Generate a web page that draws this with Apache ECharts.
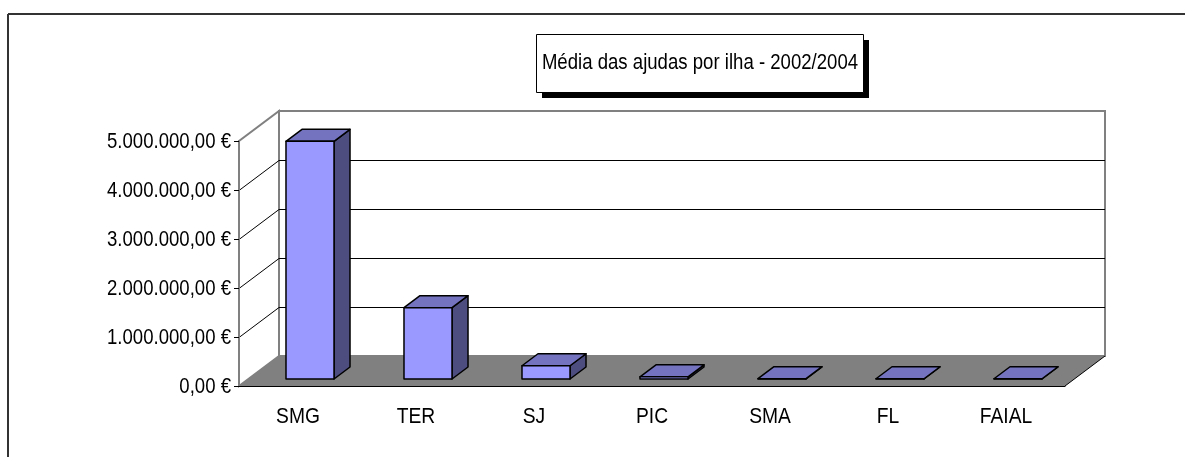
<!DOCTYPE html>
<html>
<head>
<meta charset="utf-8">
<script src="https://cdn.jsdelivr.net/npm/echarts@6/dist/echarts.min.js"></script>
<style>
  html, body { margin: 0; padding: 0; background: #fff; }
  #grafico { width: 1185px; height: 457px; }
</style>
</head>
<body>
<div id="grafico"></div>
<script>
// dados
var ilhas = ['SMG', 'TER', 'SJ', 'PIC', 'SMA', 'FL', 'FAIAL'];
var mediaAjudas = [4850000, 1455000, 270000, 45000, 6000, 5000, 5000];
var marcasEixo = [0, 1000000, 2000000, 3000000, 4000000, 5000000];
var titulo = 'Média das ajudas por ilha - 2002/2004';

var fonte = "'Liberation Sans', Arial, sans-serif";
var letra = '22px ' + fonte;
var aperto = 0.845; // letra estreita como no original
var prof = [40, -30];   // profundidade do chão/paredes
var barraDesl = [12, -7]; // posição da face da frente das barras
var barraProf = [16, -12];

function euro(v) {
  var s = String(Math.round(v)).replace(/\B(?=(\d{3})+(?!\d))/g, '.');
  return s + ',00 €';
}

var chart = echarts.init(document.getElementById('grafico'));

chart.setOption({
  backgroundColor: '#fff',
  animation: false,
  grid: { left: 239, right: 120, top: 141, bottom: 71 },
  xAxis: {
    type: 'category',
    data: ilhas,
    z: 10,
    axisLine: { lineStyle: { color: '#000', width: 1 } },
    axisTick: { length: 5, lineStyle: { color: '#000' } },
    axisLabel: { show: false }
  },
  yAxis: {
    type: 'value',
    min: 0,
    max: 5000000,
    interval: 1000000,
    z: 10,
    splitLine: { show: false },
    axisLine: { show: true, lineStyle: { color: '#808080', width: 2 } },
    axisTick: { show: true, length: 5, lineStyle: { color: '#000' } },
    axisLabel: { show: false }
  },
  graphic: [
    { type: 'line', shape: { x1: 8, y1: 14, x2: 1185, y2: 14 }, style: { stroke: '#333', lineWidth: 2 } },
    { type: 'line', shape: { x1: 8, y1: 14, x2: 8, y2: 457 }, style: { stroke: '#333', lineWidth: 2 } },
    { type: 'rect', shape: { x: 542, y: 40, width: 327, height: 58 }, style: { fill: '#000' } },
    { type: 'rect', shape: { x: 536.5, y: 34.5, width: 327, height: 58 }, style: { fill: '#fff', stroke: '#000', lineWidth: 1 } },
    {
      type: 'text', x: 700, y: 63, scaleX: aperto,
      style: { text: titulo, fill: '#000', font: letra, align: 'center', verticalAlign: 'middle' }
    }
  ],
  series: [
    {
      // paredes e chão
      type: 'custom',
      z: 1,
      silent: true,
      data: [[0, 0]],
      renderItem: function (params, api) {
        var c = params.coordSys;
        var x0 = c.x, x1 = c.x + c.width, yT = c.y, yB = c.y + c.height;
        var dx = prof[0], dy = prof[1];
        return {
          type: 'group',
          children: [
            { type: 'polygon', shape: { points: [[x0, yB], [x0 + dx, yB + dy], [x0 + dx, yT + dy], [x0, yT]] },
              style: { fill: '#fff', stroke: '#808080', lineWidth: 2 } },
            { type: 'rect', shape: { x: x0 + dx, y: yT + dy, width: c.width, height: c.height },
              style: { fill: '#fff', stroke: '#808080', lineWidth: 2 } },
            { type: 'polygon', shape: { points: [[x0, yB], [x0 + dx, yB + dy], [x1 + dx, yB + dy], [x1, yB]] },
              style: { fill: '#808080', stroke: null } },
            { type: 'line', shape: { x1: x1, y1: yB, x2: x1 + dx, y2: yB + dy },
              style: { stroke: '#000', lineWidth: 1 } }
          ]
        };
      }
    },
    {
      // linhas de grelha nas paredes e rótulos do eixo dos valores
      type: 'custom',
      z: 2,
      silent: true,
      data: marcasEixo.map(function (v) { return [0, v]; }),
      encode: { x: 0, y: 1 },
      renderItem: function (params, api) {
        var c = params.coordSys;
        var v = api.value(1);
        var y = Math.round(api.coord([0, v])[1]) + 0.5;
        var x0 = c.x, x1 = c.x + c.width;
        var filhos = [{
          type: 'text', x: x0 - 8, y: y, scaleX: aperto,
          style: { text: euro(v), fill: '#000', font: letra, align: 'right', verticalAlign: 'middle' }
        }];
        if (v > 0 && v < 5000000) {
          filhos.push({
            type: 'polyline',
            shape: { points: [[x0, y], [x0 + prof[0], y + prof[1]], [x1 + prof[0], y + prof[1]]] },
            style: { stroke: '#000', lineWidth: 1, fill: null }
          });
        }
        return { type: 'group', children: filhos };
      }
    },
    {
      name: 'Média das ajudas',
      type: 'custom',
      z: 3,
      data: mediaAjudas.map(function (v, i) { return [i, v]; }),
      encode: { x: 0, y: 1 },
      renderItem: function (params, api) {
        var i = api.value(0), v = api.value(1);
        var base = api.coord([i, 0]);
        var topo = api.coord([i, v]);
        var bw = api.size([1, 0])[0];
        var w = bw * 0.407;
        var l = base[0] - w / 2 + barraDesl[0];
        var r = l + w;
        var yb = base[1] + barraDesl[1];
        var yt = topo[1] + barraDesl[1];
        var dx = barraProf[0], dy = barraProf[1];
        var traco = { stroke: '#000', lineWidth: 1.5, lineJoin: 'round' };
        return {
          type: 'group',
          children: [
            { type: 'polygon', shape: { points: [[r, yt], [r + dx, yt + dy], [r + dx, yb + dy], [r, yb]] },
              style: Object.assign({ fill: '#4D4D80' }, traco) },
            { type: 'polygon', shape: { points: [[l, yt], [l + dx, yt + dy], [r + dx, yt + dy], [r, yt]] },
              style: Object.assign({ fill: '#7373C0' }, traco) },
            { type: 'rect', shape: { x: l, y: yt, width: w, height: yb - yt },
              style: Object.assign({ fill: '#9999FF' }, traco) },
            {
              type: 'text', x: base[0], y: base[1] + 31, scaleX: aperto + 0.03, silent: true,
              style: { text: ilhas[i], fill: '#000', font: letra, align: 'center', verticalAlign: 'middle' }
            }
          ]
        };
      }
    }
  ]
});
</script>
</body>
</html>
